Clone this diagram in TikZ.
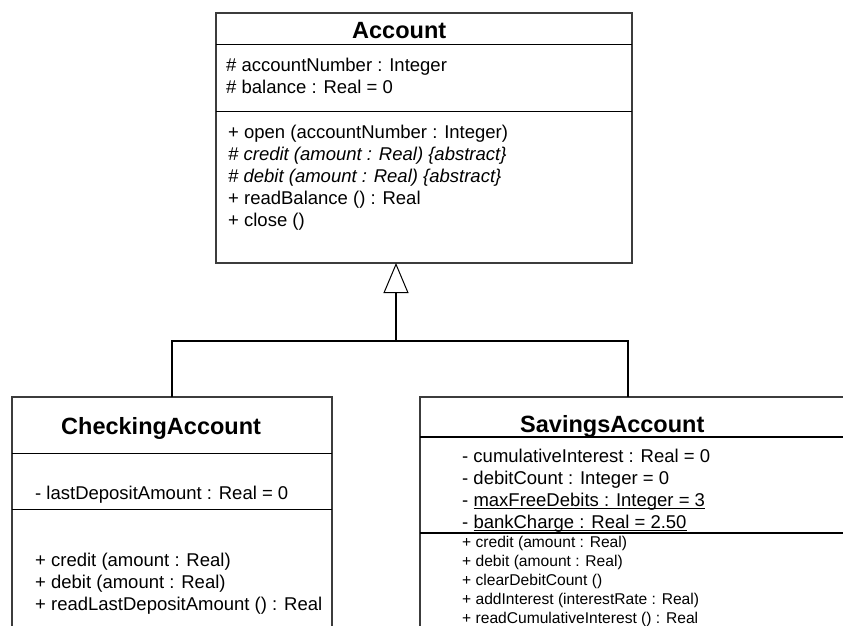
\documentclass[tikz,border=0pt]{standalone}
\usepackage{fontspec}
\setmainfont{Liberation Sans}
\usetikzlibrary{arrows.meta}
\definecolor{boxgray}{HTML}{3C3C3C}
\newcommand\myul[1]{\setbox0\hbox{#1}\rlap{\rule[-2.6pt]{\wd0}{1.3pt}}\box0}
\begin{document}
\begin{tikzpicture}[x=1pt,y=-1pt,
  classbox/.style={draw=boxgray, line width=1.5pt, inner sep=0pt, outer sep=0pt, anchor=north west},
  sepline/.style={draw=black, line width=1pt},
  thicksep/.style={draw=black, line width=2pt},
  conn/.style={draw=black, line width=2pt},
  title/.style={inner sep=0pt, anchor=base west, font=\bfseries\fontsize{23.5}{28}\selectfont},
  txt/.style={inner sep=0pt, anchor=base west, align=left, font=\fontsize{18.5}{22}\selectfont},
  smalltxt/.style={inner sep=0pt, anchor=base west, align=left, font=\fontsize{15.6}{19}\selectfont}]
\clip (0,0) rectangle (843,625);
\fill[white] (0,0) rectangle (843,625);

% Account
\node[classbox, minimum width=416pt, minimum height=250pt] (acc) at (216,13) {};
\draw[sepline] (216,44) -- (632,44);
\draw[sepline] (216,111) -- (632,111);
\node[title] (acct) at (352,38.5) {Account};
\node[txt] (acca) at (226,93) {\# accountNumber : Integer\\\# balance : Real = 0};
\node[txt] (acco) at (228,226) {+ open (accountNumber : Integer)\\
  \itshape \# credit (amount : Real) \{abstract\}\\
  \itshape \# debit (amount : Real) \{abstract\}\\
  + readBalance () : Real\\
  + close ()};

% CheckingAccount
\node[classbox, minimum width=320pt, minimum height=300pt] (chk) at (12,397) {};
\draw[sepline] (12,453) -- (332,453);
\draw[sepline] (12,509) -- (332,509);
\node[title] (chkt) at (61,434.5) {CheckingAccount};
\node[txt] (chka) at (35,499) {- lastDepositAmount : Real = 0};
\node[txt] (chko) at (35,610.5) {+ credit (amount : Real)\\
  + debit (amount : Real)\\
  + readLastDepositAmount () : Real};

% SavingsAccount
\node[classbox, minimum width=500pt, minimum height=300pt] (sav) at (420,397) {};
\draw[thicksep] (420,437) -- (843,437);
\draw[thicksep] (420,533) -- (843,533);
\node[title] (savt) at (520,432) {SavingsAccount};
\node[txt] (sava) at (462,528.5) {- cumulativeInterest : Real = 0\\
  - debitCount : Integer = 0\\
  - \myul{maxFreeDebits : Integer = 3}\\
  - \myul{bankCharge : Real = 2.50}};
\node[smalltxt] (savo) at (462,623) {+ credit (amount : Real)\\
  + debit (amount : Real)\\
  + clearDebitCount ()\\
  + addInterest (interestRate : Real)\\
  + readCumulativeInterest () : Real};

% generalization
\coordinate (jm) at (396,341);
\coordinate (jr) at (628,341);
\draw[conn] (chk.north) |- (jr) -- (jr |- sav.north);
\draw[conn, -{Triangle[open, length=30pt, width=25pt, line width=1pt]}] (jm) -- (jm |- acc.south);
\end{tikzpicture}
\end{document}
